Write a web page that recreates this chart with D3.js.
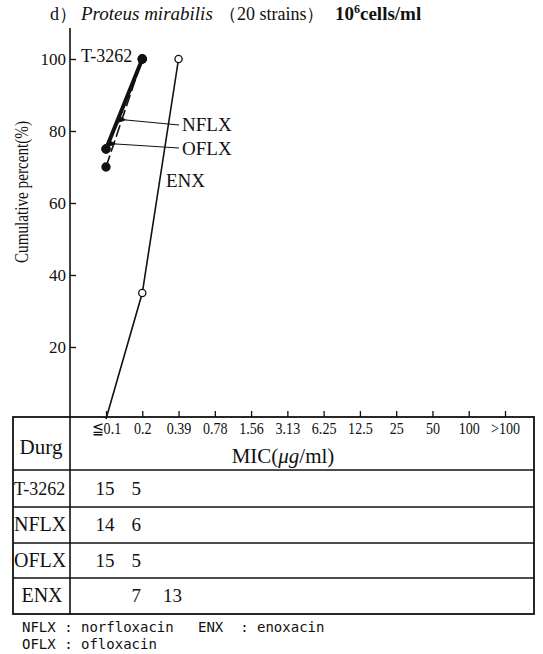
<!DOCTYPE html>
<html><head><meta charset="utf-8">
<script src="https://cdn.jsdelivr.net/npm/d3@7"></script>
<style>
body{margin:0;background:#fff;}
text{font-family:"Liberation Serif","DejaVu Serif",serif;fill:#111;}
text.mono{font-family:"DejaVu Sans Mono","Liberation Mono",monospace;white-space:pre;}
</style></head>
<body><svg id="c" width="543" height="654"></svg>
<script>
const categories = ["≦0.1","0.2","0.39","0.78","1.56","3.13","6.25","12.5","25","50","100",">100"];
const drugs = ["T-3262","NFLX","OFLX","ENX"];
const countsT3262 = [15,5];
const countsNFLX = [14,6];
const countsOFLX = [15,5];
const countsENX = [null,7,13];
const strains = 20;
const yTicks = [20,40,60,80,100];
const footNotes = ["NFLX : norfloxacin", "ENX  : enoxacin", "OFLX : ofloxacin"];

const series = [
  {name:"T-3262", counts:countsT3262, width:4, dash:null, marker:"filled"},
  {name:"NFLX", counts:countsNFLX, width:1.6, dash:"12,4", marker:"filled"},
  {name:"OFLX", counts:countsOFLX, width:1.4, dash:"5,3", marker:"filled"},
  {name:"ENX", counts:countsENX, width:1.6, dash:null, marker:"open"}
];
series.forEach(s=>{
  let c=0;
  s.points = s.counts.map((v,i)=>{c+=(v||0);return {cat:categories[i], pct:c/strains*100};});
});

const svg = d3.select("#c");
svg.append("rect").attr("width",543).attr("height",654).attr("fill","#fff");

const x = d3.scalePoint().domain(categories).range([106,505]);
const y = d3.scaleLinear().domain([0,100]).range([419,59]);

// Title
svg.append("text").attr("x",50).attr("y",20).attr("font-size",18).text("d）");
svg.append("text").attr("x",81).attr("y",20).attr("font-size",19).attr("font-style","italic").text("Proteus  mirabilis");
svg.append("text").attr("x",219).attr("y",20).attr("font-size",18).text("（20 strains）");
const t2 = svg.append("text").attr("x",335).attr("y",20).attr("font-size",19).attr("font-weight","bold");
t2.append("tspan").text("10");
t2.append("tspan").attr("font-size",12).attr("dy",-7).text("6");
t2.append("tspan").attr("dy",7).text("cells/ml");

// Y axis
const yAxis = d3.axisLeft(y).tickValues(yTicks).tickSize(-6).tickPadding(4).tickFormat(d3.format("d"));
const ga = svg.append("g").attr("transform","translate(70,0)").call(yAxis);
ga.select(".domain").remove();
ga.selectAll(".tick line").attr("stroke","#111").attr("stroke-width",1.3);
ga.selectAll(".tick text").style("font-size","17px").attr("fill","#111");
svg.append("line").attr("x1",70).attr("x2",70).attr("y1",28).attr("y2",615).attr("stroke","#111").attr("stroke-width",1.6);

svg.append("text").attr("transform","translate(28,192) rotate(-90)").attr("text-anchor","middle")
  .attr("font-size",18).attr("textLength",142).attr("lengthAdjust","spacingAndGlyphs").text("Cumulative percent(%)");

// Table
const rowsY = [417,470,507,543,578,614];
svg.append("rect").attr("x",13).attr("y",417).attr("width",521).attr("height",197)
  .attr("fill","none").attr("stroke","#111").attr("stroke-width",1.8);
rowsY.slice(1,5).forEach(v=>svg.append("line").attr("x1",13).attr("x2",534).attr("y1",v).attr("y2",v)
  .attr("stroke","#111").attr("stroke-width",1.4));

const xAxis = d3.axisBottom(x).tickSize(-6).tickPadding(5);
const gx = svg.append("g").attr("transform","translate(0,417)").call(xAxis);
gx.select(".domain").remove();
gx.selectAll(".tick line").attr("stroke","#111").attr("stroke-width",1.3);
gx.selectAll(".tick text").style("font-size","16px").attr("fill","#111")
  .attr("transform","scale(0.88,1.05)");

const mic = svg.append("text").attr("x",283).attr("y",463).attr("text-anchor","middle").attr("font-size",21);
mic.append("tspan").text("MIC(");
mic.append("tspan").attr("font-style","italic").text("μg");
mic.append("tspan").text("/ml)");
svg.append("text").attr("x",41).attr("y",454).attr("text-anchor","middle").attr("font-size",21).text("Durg");

series.forEach((s,i)=>{
  const cy = (rowsY[i+1]+rowsY[i+2])/2 + 6;
  svg.append("text").attr("x", s.name==="ENX"?42:14).attr("y",cy).attr("text-anchor", s.name==="ENX"?"middle":"start")
    .attr("font-size", s.name==="T-3262"?18:20).text(s.name);
  s.counts.forEach((v,j)=>{
    if(v==null) return;
    svg.append("text").attr("x",x(categories[j])-(j===0?1:6)).attr("y",cy).attr("text-anchor","middle").attr("font-size",19).text(v);
  });
});

// Lines
const line = d3.line().x(d=>x(d.cat)).y(d=>y(d.pct));
series.slice().reverse().forEach(s=>{
  svg.append("path").datum(s.points).attr("d",line).attr("fill","none").attr("stroke","#111")
    .attr("stroke-width",s.width).attr("stroke-dasharray",s.dash);
});
series.forEach(s=>{
  svg.selectAll(null).data(s.points.filter(p=>!(s.marker==="open" && p.pct===0))).enter().append("circle")
    .attr("cx",d=>x(d.cat)).attr("cy",d=>y(d.pct)).attr("r",s.marker==="open"?3.6:4)
    .attr("fill",s.marker==="open"?"#fff":"#111").attr("stroke","#111").attr("stroke-width",1.3);
});

// labels and arrows
svg.append("defs").append("marker").attr("id","ah").attr("viewBox","0 0 10 10").attr("refX",1).attr("refY",5)
  .attr("markerWidth",8).attr("markerHeight",8).attr("orient","auto-start-reverse")
  .append("path").attr("d","M10,1 L0,5 L10,9 z").attr("fill","#111");
svg.append("text").attr("x",81).attr("y",62).attr("font-size",18).text("T-3262");
svg.append("text").attr("x",182).attr("y",131).attr("font-size",19).text("NFLX");
svg.append("text").attr("x",182).attr("y",155).attr("font-size",19).text("OFLX");
svg.append("text").attr("x",166).attr("y",187).attr("font-size",19).text("ENX");
svg.append("line").attr("x1",179).attr("y1",125).attr("x2",126).attr("y2",120).attr("stroke","#111").attr("stroke-width",1.2).attr("marker-end","url(#ah)");
svg.append("line").attr("x1",179).attr("y1",148).attr("x2",116).attr("y2",144).attr("stroke","#111").attr("stroke-width",1.2).attr("marker-end","url(#ah)");

// footnote
svg.append("text").attr("class","mono").attr("x",22).attr("y",632).attr("font-size",14).text(footNotes[0]);
svg.append("text").attr("class","mono").attr("x",198).attr("y",632).attr("font-size",14).text(footNotes[1]);
svg.append("text").attr("class","mono").attr("x",22).attr("y",649).attr("font-size",14).text(footNotes[2]);
</script></body></html>
